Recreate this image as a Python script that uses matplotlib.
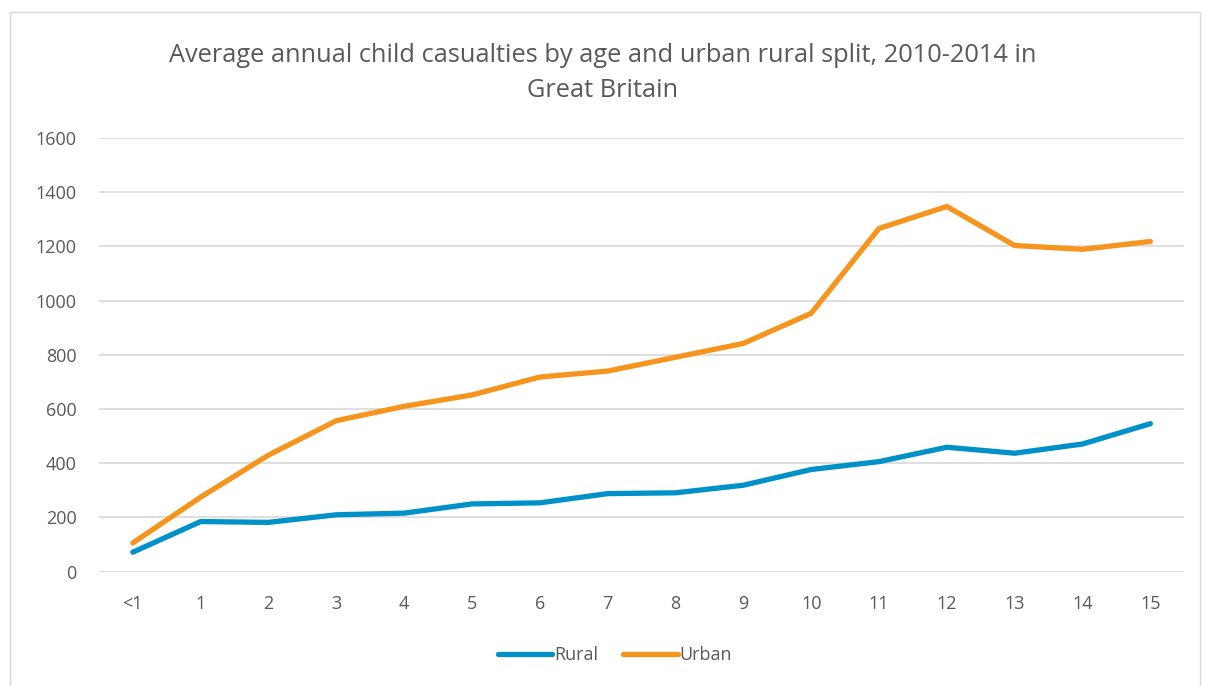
import matplotlib.pyplot as plt
from matplotlib.patches import Rectangle

ages = ["<1", "1", "2", "3", "4", "5", "6", "7", "8", "9", "10", "11", "12", "13", "14", "15"]
rural = [72, 185, 182, 210, 216, 250, 254, 288, 291, 319, 377, 406, 459, 437, 471, 546]
urban = [106, 275, 430, 557, 610, 652, 718, 740, 791, 842, 953, 1266, 1347, 1203, 1189, 1218]

plt.rcParams["font.family"] = ["Open Sans", "DejaVu Sans"]

fig = plt.figure(figsize=(12.06, 6.86), dpi=100)
ax = fig.add_axes([0.082, 0.1666, 0.9, 0.6324])

x = range(len(ages))
ax.plot(x, rural, color="#0091C9", lw=3.8, solid_capstyle="round", solid_joinstyle="round", label="Rural")
ax.plot(x, urban, color="#F7941E", lw=3.8, solid_capstyle="round", solid_joinstyle="round", label="Urban")

ax.set_xlim(-0.5, len(ages) - 0.5)
ax.set_ylim(0, 1600)
ax.set_yticks(range(0, 1601, 200))
ax.set_xticks(list(x))
ax.set_xticklabels(ages)
ax.grid(axis="y", color="#D9D9D9", lw=1.2)
ax.set_axisbelow(True)
for s in ax.spines.values():
    s.set_visible(False)
ax.tick_params(length=0, labelsize=13, colors="#595959")
ax.tick_params(axis="x", pad=17)
ax.tick_params(axis="y", pad=16)

fig.suptitle("Average annual child casualties by age and urban rural split, 2010-2014 in\nGreat Britain",
             y=0.937, fontsize=18.3, color="#595959", linespacing=1.5)

leg = fig.legend(loc="center", bbox_to_anchor=(0.51, 0.045), ncol=2, frameon=False,
                 fontsize=13, handlelength=3.0, handletextpad=0.1, columnspacing=1.4)
for t in leg.get_texts():
    t.set_color("#595959")

fig.patches.append(Rectangle((10 / 1206, -0.1), 1190 / 1206, 1.1 - 12 / 686, transform=fig.transFigure,
                             fill=False, edgecolor="#D9D9D9", lw=1))

fig.savefig("out.png", dpi=100)
